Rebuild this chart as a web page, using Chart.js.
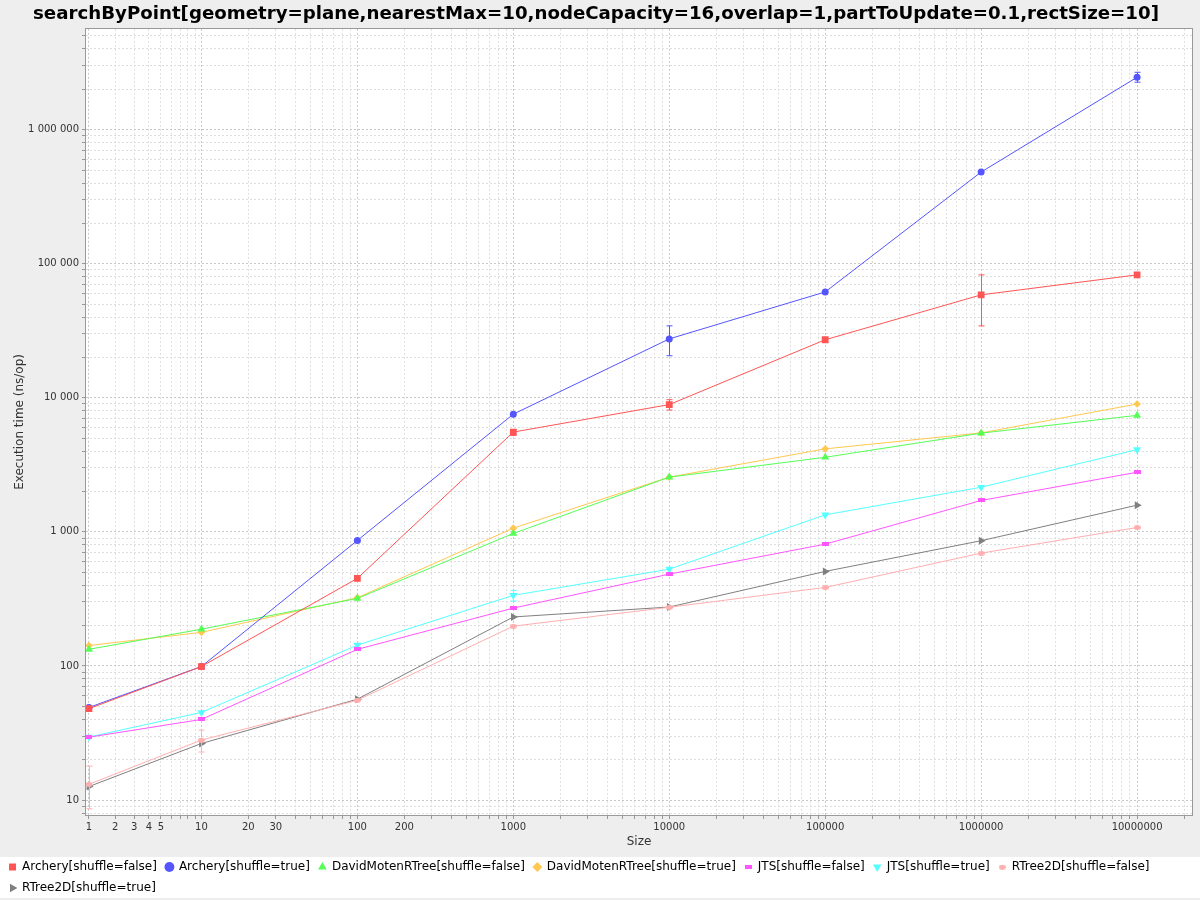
<!DOCTYPE html>
<html>
<head>
<meta charset="utf-8">
<title>searchByPoint benchmark</title>
<script src="https://cdn.jsdelivr.net/npm/chart.js@4.4.1/dist/chart.umd.min.js"></script>
<style>
    html, body { margin: 0; padding: 0; background: #eeeeee; }
    #benchChart { display: block; }
</style>
</head>
<body>
<canvas id="benchChart" width="1200" height="900"></canvas>
<script>
const sizes = [1, 10, 100, 1000, 10000, 100000, 1000000, 10000000];

const archeryFalse = [48, 99, 450, 5550, 8900, 27100, 58600, 82600];
const archeryTrue = [49, 99, 863, 7550, 27500, 61600, 483000, 2460000];
const davidFalse = [133, 188, 319, 973, 2560, 3600, 5450, 7400];
const davidTrue = [142, 178, 323, 1066, 2560, 4160, 5470, 8990];
const jtsFalse = [29.4, 39.9, 133, 270, 484, 810, 1714, 2785];
const jtsTrue = [29.5, 45, 143, 336, 527, 1340, 2153, 4108];
const rtreeFalse = [13.1, 28, 55.5, 198, 274, 385, 694, 1078];
const rtreeTrue = [12.6, 26.4, 56.5, 232, 275, 507, 859, 1581];

// error bars [low, high], null where none is visible
const archeryFalseErr = [null, null, null, [5250, 5800], [8110, 9680], null, [34400, 82600], null];
const archeryTrueErr = [null, null, null, null, [20600, 34400], null, null, [2260000, 2680000]];
const jtsTrueErr = [null, null, null, [305, 366], null, null, null, null];
const rtreeFalseErr = [[8.6, 17.9], [22.8, 33.2], null, null, null, null, null, null];

const xTickLabels = [1, 2, 3, 4, 5, 10, 20, 30, 100, 200, 1000, 10000, 100000, 1000000, 10000000];
const yTickLabels = [10, 100, 1000, 10000, 100000, 1000000];

const xMin = 0.91, xMax = 22500000;
const yMin = 7.73, yMax = 5650000;

// JFreeChart style log axis: values under 10 are pulled towards 10
function adjLog10(v) {
    if (v < 10) v += (10 - v) / 10;
    return Math.log10(v);
}

function gridValues(min, max) {
    const values = [];
    for (let d = 1; d <= max; d *= 10) {
        for (let m = 1; m <= 9; m++) {
            const v = m * d;
            if (v >= min && v <= max) values.push(v);
        }
    }
    return values;
}

class AdjLogScale extends Chart.Scale {
    static id = 'adjlog';
    static defaults = {};

    parse(raw) {
        return raw == null ? null : +raw;
    }

    determineDataLimits() {
        this.min = this.options.min;
        this.max = this.options.max;
    }

    buildTicks() {
        return gridValues(this.min, this.max).map(v => ({ value: v }));
    }

    getLabelForValue(value) {
        return String(value);
    }

    configure() {
        super.configure();
        this._adjStart = adjLog10(this.min);
        this._adjSpan = adjLog10(this.max) - this._adjStart;
    }

    getPixelForValue(value) {
        return this.getPixelForDecimal((adjLog10(value) - this._adjStart) / this._adjSpan);
    }

    getValueForPixel(pixel) {
        return Math.pow(10, this._adjStart + this.getDecimalForPixel(pixel) * this._adjSpan);
    }
}
Chart.register(AdjLogScale);

function marker(color, w, h, ellipse) {
    const c = document.createElement('canvas');
    c.width = w;
    c.height = h;
    const ctx = c.getContext('2d');
    ctx.fillStyle = color;
    if (ellipse) {
        ctx.beginPath();
        ctx.ellipse(w / 2, h / 2, w / 2, h / 2, 0, 0, Math.PI * 2);
        ctx.fill();
    } else {
        ctx.fillRect(0, 0, w, h);
    }
    return c;
}

function series(label, values, color, pointStyle, radius, rotation, errors) {
    return {
        label: label,
        data: sizes.map((s, i) => ({ x: s, y: values[i] })),
        borderColor: color,
        backgroundColor: color,
        borderWidth: 1,
        pointStyle: pointStyle,
        pointRadius: radius,
        pointRotation: rotation,
        pointBorderWidth: 0,
        pointHoverRadius: radius,
        fill: false,
        tension: 0,
        errorBars: errors || null
    };
}

function thousands(v) {
    return String(v).replace(/\B(?=(\d{3})+(?!\d))/g, ' ');
}

const backgroundPlugin = {
    id: 'backgrounds',
    beforeDraw(chart) {
        const { ctx, chartArea, legend } = chart;
        ctx.save();
        ctx.fillStyle = '#eeeeee';
        ctx.fillRect(0, 0, chart.width, chart.height);
        ctx.fillStyle = '#ffffff';
        ctx.fillRect(chartArea.left, chartArea.top, chartArea.right - chartArea.left, chartArea.bottom - chartArea.top);
        const bandTop = Math.round(legend.top) + 5;
        ctx.fillRect(0, bandTop, chart.width, 898 - bandTop);
        ctx.restore();
    },
    beforeDatasetsDraw(chart) {
        const { ctx, chartArea } = chart;
        ctx.save();
        ctx.strokeStyle = '#999999';
        ctx.lineWidth = 1;
        ctx.strokeRect(Math.round(chartArea.left) - 0.5, Math.round(chartArea.top) - 0.5,
            Math.round(chartArea.right - chartArea.left) + 1, Math.round(chartArea.bottom - chartArea.top) + 1);
        ctx.restore();
    }
};

const errorBarPlugin = {
    id: 'errorBars',
    afterDatasetsDraw(chart) {
        const ctx = chart.ctx;
        const yScale = chart.scales.y;
        chart.data.datasets.forEach((ds, i) => {
            if (!ds.errorBars) return;
            const meta = chart.getDatasetMeta(i);
            ctx.save();
            ctx.strokeStyle = ds.borderColor;
            ctx.lineWidth = 1;
            ds.errorBars.forEach((err, j) => {
                if (!err) return;
                const x = Math.round(meta.data[j].x) + 0.5;
                const lo = yScale.getPixelForValue(err[0]);
                const hi = yScale.getPixelForValue(err[1]);
                ctx.beginPath();
                ctx.moveTo(x, lo);
                ctx.lineTo(x, hi);
                ctx.moveTo(x - 3, lo);
                ctx.lineTo(x + 3, lo);
                ctx.moveTo(x - 3, hi);
                ctx.lineTo(x + 3, hi);
                ctx.stroke();
            });
            ctx.restore();
        });
    }
};

const gridColor = ctx => {
    const v = ctx.tick ? ctx.tick.value : 0;
    return Math.abs(Math.log10(v) - Math.round(Math.log10(v))) < 1e-9 ? '#c8c8c8' : '#dedede';
};

const ctx = document.getElementById('benchChart').getContext('2d');

const chart = new Chart(ctx, {
    type: 'line',
    data: {
        datasets: [
            series('Archery[shuffle=false]', archeryFalse, '#ff5555', 'rect', 4.8, 0, archeryFalseErr),
            series('Archery[shuffle=true]', archeryTrue, '#5555ff', 'circle', 3.5, 0, archeryTrueErr),
            series('DavidMotenRTree[shuffle=false]', davidFalse, '#55ff55', 'triangle', 4.6, 0),
            series('DavidMotenRTree[shuffle=true]', davidTrue, '#ffc850', 'rectRot', 3.8, 0),
            series('JTS[shuffle=false]', jtsFalse, '#ff55ff', marker('#ff55ff', 7, 4, false), 3, 0),
            series('JTS[shuffle=true]', jtsTrue, '#55ffff', 'triangle', 4.6, 180, jtsTrueErr),
            series('RTree2D[shuffle=false]', rtreeFalse, '#ffafaf', marker('#ffafaf', 7, 5, true), 3, 0, rtreeFalseErr),
            series('RTree2D[shuffle=true]', rtreeTrue, '#808080', 'triangle', 4.6, 90)
        ]
    },
    options: {
        responsive: false,
        animation: false,
        layout: { padding: { left: 0, right: 8, top: 0, bottom: -4 } },
        plugins: {
            title: {
                display: true,
                text: 'searchByPoint[geometry=plane,nearestMax=10,nodeCapacity=16,overlap=1,partToUpdate=0.1,rectSize=10]',
                color: '#000000',
                font: { family: 'DejaVu Sans', size: 18.2, weight: 'bold' },
                padding: { top: 3, bottom: 4 }
            },
            legend: {
                position: 'bottom',
                align: 'start',
                labels: {
                    usePointStyle: true,
                    boxWidth: 7,
                    boxHeight: 7,
                    padding: 9,
                    color: '#000000',
                    font: { family: 'DejaVu Sans', size: 12 }
                }
            },
            tooltip: { enabled: false }
        },
        scales: {
            x: {
                type: 'adjlog',
                position: 'bottom',
                min: xMin,
                max: xMax,
                afterFit: scale => { scale.height = 37; },
                title: {
                    display: true,
                    text: 'Size',
                    color: '#333333',
                    font: { family: 'DejaVu Sans', size: 12 },
                    padding: { top: 0, bottom: 3 }
                },
                ticks: {
                    autoSkip: false,
                    maxRotation: 0,
                    padding: 2,
                    color: '#333333',
                    font: { family: 'DejaVu Sans', size: 10 },
                    callback: v => xTickLabels.includes(v) ? String(v) : ''
                },
                grid: { color: gridColor, tickColor: '#999999', tickLength: 4, lineWidth: 1 },
                border: { display: false, dash: [2, 2] }
            },
            y: {
                type: 'logarithmic',
                position: 'left',
                min: yMin,
                max: yMax,
                afterFit: scale => { scale.width = 86; },
                afterBuildTicks: scale => {
                    scale.ticks = gridValues(yMin, yMax).map(v => ({ value: v }));
                },
                title: {
                    display: true,
                    text: 'Execution time (ns/op)',
                    color: '#333333',
                    font: { family: 'DejaVu Sans', size: 12 },
                    padding: { top: 13, bottom: 0 }
                },
                ticks: {
                    autoSkip: false,
                    padding: 3,
                    color: '#333333',
                    font: { family: 'DejaVu Sans', size: 10 },
                    callback: v => yTickLabels.includes(v) ? thousands(v) : ''
                },
                grid: { color: gridColor, tickColor: '#999999', tickLength: 4, lineWidth: 1 },
                border: { display: false, dash: [2, 2] }
            }
        }
    },
    plugins: [backgroundPlugin, errorBarPlugin]
});
</script>
</body>
</html>
